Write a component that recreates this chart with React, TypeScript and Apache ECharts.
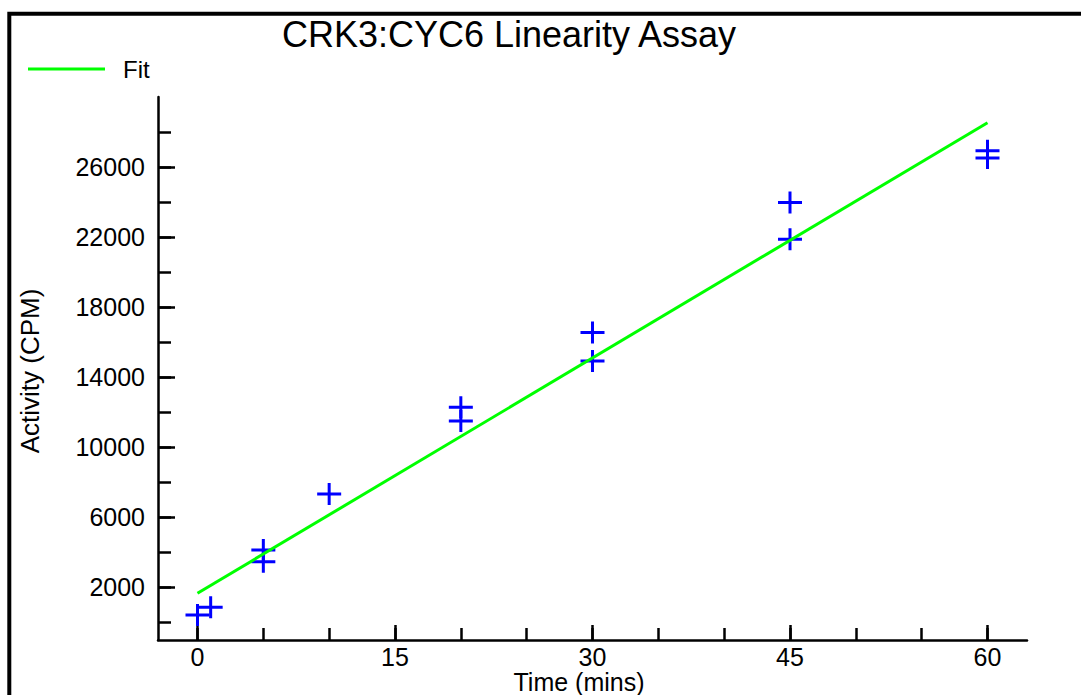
import React, { useEffect, useRef } from "react";
import * as echarts from "echarts";

// Data
const timeMins = [0, 1, 5, 5, 10, 20, 20, 30, 30, 45, 45, 60, 60];
const activityCpm = [430, 870, 4140, 3470, 7330, 12290, 11500, 16550, 14930, 23970, 21880, 26930, 26520];
const fitTime = [0, 60];
const fitActivity = [1670, 28530];

const xMinorTicks = [0, 5, 10, 15, 20, 25, 30, 35, 40, 45, 50, 55, 60];
const xMajorTicks = [0, 15, 30, 45, 60];
const yMinorTicks = [0, 2000, 4000, 6000, 8000, 10000, 12000, 14000, 16000, 18000, 20000, 22000, 24000, 26000, 28000];
const yMajorTicks = [2000, 6000, 10000, 14000, 18000, 22000, 26000];

const FONT = "'Liberation Sans', Arial, Helvetica, sans-serif";
const PLUS = "path://M-12,-1.5 h24 v3 h-24 Z M-1.5,-11 h3 v22 h-3 Z";

export default function App() {
  const ref = useRef<HTMLDivElement>(null);
  useEffect(() => {
    if (!ref.current) return;
    const chart = echarts.init(ref.current, null, { renderer: "svg" });
    const axisCommon = { color: "#000", width: 2.5 };
    const xBase = { type: "value", min: -3, max: 63, position: "bottom", splitLine: { show: false } };
    const yBase = { type: "value", min: -1000, max: 30000, position: "left", splitLine: { show: false } };
    const plain = (v: number) => String(v);
    chart.setOption({
      animation: false,
      backgroundColor: "#fff",
      grid: { left: 158, top: 97, right: 54, bottom: 55, containLabel: false },
      legend: {
        data: [{ name: "Fit", icon: "rect" }],
        left: 28,
        top: 57,
        padding: 0,
        itemWidth: 77,
        itemHeight: 3,
        itemStyle: { color: "#00ff00" },
        textStyle: { fontSize: 24, fontFamily: FONT, color: "#000", padding: [0, 0, 0, 13] },
      },
      xAxis: [
        {
          ...xBase,
          axisLine: { show: true, onZero: false, lineStyle: axisCommon },
          axisTick: { show: true, inside: true, length: 12, customValues: xMinorTicks, lineStyle: axisCommon },
          axisLabel: { show: false },
        },
        {
          ...xBase,
          axisLine: { show: false, onZero: false },
          axisTick: { show: true, inside: true, length: 15, customValues: xMajorTicks, lineStyle: axisCommon },
          axisLabel: {
            show: true,
            customValues: xMajorTicks,
            formatter: plain,
            margin: 4,
            fontSize: 25,
            fontFamily: FONT,
            color: "#000",
          },
        },
      ],
      yAxis: [
        {
          ...yBase,
          axisLine: { show: true, onZero: false, lineStyle: axisCommon },
          axisTick: { show: true, inside: true, length: 13, customValues: yMinorTicks, lineStyle: axisCommon },
          axisLabel: { show: false },
        },
        {
          ...yBase,
          axisLine: { show: false, onZero: false },
          axisTick: { show: true, inside: true, length: 17, customValues: yMajorTicks, lineStyle: axisCommon },
          axisLabel: {
            show: true,
            customValues: yMajorTicks,
            formatter: plain,
            margin: 13,
            fontSize: 25,
            fontFamily: FONT,
            color: "#000",
          },
        },
      ],
      series: [
        {
          name: "Data",
          type: "scatter",
          symbol: PLUS,
          symbolSize: [24, 22],
          itemStyle: { color: "#0000ff", opacity: 1 },
          data: timeMins.map((t, i) => [t, activityCpm[i]]),
          z: 2,
        },
        {
          name: "Fit",
          type: "line",
          symbol: "none",
          lineStyle: { color: "#00ff00", width: 3 },
          itemStyle: { color: "#00ff00" },
          data: fitTime.map((t, i) => [t, fitActivity[i]]),
          z: 3,
        },
      ],
      graphic: [
        {
          type: "rect",
          shape: { x: 9.3, y: 13.7, width: 1200, height: 1000 },
          style: { fill: "none", stroke: "#000", lineWidth: 4 },
          silent: true,
        },
        {
          type: "text",
          x: 509,
          y: 34,
          style: {
            text: "CRK3:CYC6 Linearity Assay",
            fontSize: 36,
            fontFamily: FONT,
            fill: "#000",
            textAlign: "center",
            textVerticalAlign: "middle",
          },
        },
        {
          type: "text",
          x: 579,
          y: 682,
          style: {
            text: "Time (mins)",
            fontSize: 25,
            fontFamily: FONT,
            fill: "#000",
            textAlign: "center",
            textVerticalAlign: "middle",
          },
        },
        {
          type: "text",
          x: 30,
          y: 371,
          rotation: Math.PI / 2,
          style: {
            text: "Activity (CPM)",
            fontSize: 26,
            fontFamily: FONT,
            fill: "#000",
            textAlign: "center",
            textVerticalAlign: "middle",
          },
        },
      ],
    });
    return () => chart.dispose();
  }, []);
  return <div ref={ref} style={{ position: "absolute", left: 0, top: 0, width: 1081, height: 695 }} />;
}
